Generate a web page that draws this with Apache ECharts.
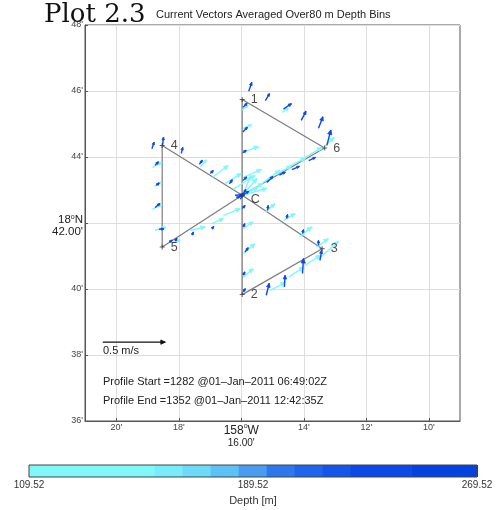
<!DOCTYPE html>
<html>
<head>
<meta charset="utf-8">
<script src="https://cdn.jsdelivr.net/npm/echarts@6/dist/echarts.min.js"></script>
<style>
  html, body { margin: 0; padding: 0; background: #fff; }
  #chart { width: 502px; height: 510px; }
</style>
</head>
<body>
<div id="chart"></div>
<script>
// Positions are arc-minutes: longitude west of 158°W, latitude north of 18°N.
const stationNames = ['1', '2', '3', '4', '5', '6', 'C'];
const stationLon   = [15.97, 15.97, 13.41, 18.53, 18.53, 13.33, 15.97];
const stationLat   = [45.74, 39.83, 41.22, 44.35, 41.27, 44.27, 42.84];
const trackOrder   = ['1', '6', 'C', '4', '5', 'C', '3', '2', 'C', '1'];

const lonTicks = [10, 12, 14, 16, 18, 20];
const latTicks = [36, 38, 40, 42, 44, 46, 48];

// Mean current per depth bin: [lon', lat', u (m/s east), v (m/s north)]
const depthBins = [149.52, 229.52];
const shallowVectors = [
  [13.44, 44.23, 0.104, 0.096], [14.69, 45.35, 0.048, 0.032],
  [15.97, 45.42, 0.048, 0.040], [15.94, 44.87, 0.068, 0.028],
  [15.93, 44.14, 0.120, 0.048], [15.93, 43.38, 0.144, 0.064],
  [15.34, 43.20, 0.144, 0.104], [14.88, 43.48, 0.120, 0.064],
  [14.46, 43.72, 0.128, 0.064], [13.95, 43.99, 0.134, 0.080],
  [15.95, 42.84, 0.160, 0.096], [15.95, 42.84, 0.112, 0.136],
  [15.95, 42.84, 0.192, 0.056], [15.95, 42.84, 0.064, 0.160],
  [16.10, 42.78, 0.160, 0.080],
  [18.84, 43.68, 0.075, 0.045], [18.78, 43.11, 0.054, 0.034],
  [18.84, 42.41, 0.075, 0.042], [18.76, 41.78, 0.088, 0.024],
  [17.31, 43.70, 0.048, 0.056], [16.93, 43.38, 0.128, 0.096],
  [16.51, 43.20, 0.128, 0.080], [16.26, 43.02, 0.176, 0.112],
  [17.63, 41.78, 0.120, 0.026], [16.94, 41.98, 0.093, 0.040],
  [16.57, 42.23, 0.134, 0.054], [18.21, 41.39, 0.064, 0.024],
  [15.24, 42.33, 0.080, 0.067], [14.65, 42.08, 0.094, 0.054],
  [14.12, 41.58, 0.093, 0.080], [13.59, 41.27, 0.094, 0.067],
  [15.94, 41.83, 0.080, 0.054], [15.94, 41.07, 0.094, 0.080],
  [15.94, 40.36, 0.080, 0.067],
  [15.07, 39.96, 0.120, 0.064], [14.48, 40.36, 0.120, 0.080],
  [13.95, 40.72, 0.120, 0.080], [13.53, 40.90, 0.160, 0.144]
];
const deepVectors = [
  [15.76, 45.99, 0.024, 0.072], [15.23, 45.71, 0.034, 0.056],
  [14.65, 45.45, 0.064, 0.044], [14.08, 45.11, 0.038, 0.074],
  [13.53, 44.87, 0.036, 0.092], [13.26, 44.35, 0.032, 0.124],
  [15.94, 45.51, 0.032, 0.032], [15.95, 44.76, 0.037, 0.037],
  [15.95, 44.13, 0.028, 0.020], [15.95, 43.29, 0.032, 0.028],
  [15.18, 43.23, 0.048, 0.048], [14.78, 43.45, 0.048, 0.024],
  [14.38, 43.62, 0.061, 0.026], [13.84, 43.89, 0.054, 0.026],
  [15.95, 42.84, 0.048, 0.032], [15.95, 42.84, 0.024, 0.048],
  [16.16, 42.78, 0.064, 0.016], [16.12, 42.74, 0.048, 0.040],
  [16.03, 42.72, 0.030, 0.052], [16.20, 42.84, 0.060, 0.004],
  [18.52, 44.35, 0.008, 0.066], [18.86, 44.25, 0.018, 0.053],
  [17.92, 44.11, 0.012, 0.048], [18.76, 43.75, 0.028, 0.028],
  [18.72, 43.14, 0.024, 0.020], [18.76, 42.47, 0.040, 0.032],
  [18.63, 41.81, 0.040, 0.004], [18.30, 41.42, 0.024, 0.016],
  [17.34, 43.78, 0.024, 0.032], [16.99, 43.50, 0.024, 0.024],
  [16.38, 43.19, 0.024, 0.032],
  [17.58, 41.63, 0.013, 0.026], [16.94, 41.83, 0.016, 0.016],
  [18.12, 41.45, 0.016, 0.024],
  [15.16, 42.38, 0.006, 0.040], [14.55, 42.13, 0.008, 0.034],
  [14.04, 41.68, 0.008, 0.032], [13.53, 41.32, 0.000, 0.040],
  [15.97, 42.44, 0.024, 0.024], [15.94, 41.88, 0.014, 0.027],
  [15.88, 41.12, 0.026, 0.035], [15.94, 40.42, 0.014, 0.026],
  [15.94, 39.91, 0.018, 0.027],
  [15.20, 39.81, 0.024, 0.096], [14.62, 40.06, 0.006, 0.094],
  [14.04, 40.47, 0.008, 0.120], [13.48, 40.87, 0.013, 0.080]
];
// Reference arrow: 0.5 m/s eastward
const scaleVector = [[20.43, 38.39, 0.5, 0]];

// Depth colour scale
const depthEdges  = [109.52, 154.4, 164.4, 174.4, 184.4, 194.4, 204.4, 214.4, 224.4, 246.0, 269.52];
const depthColors = ['#80f8fa', '#78ecf8', '#6cdaf8', '#5cc2f6', '#4a9cf2', '#2e78ee', '#1e64ec', '#1456ea', '#0b4ae8', '#0542e2'];
const depthTicks  = [109.52, 189.52, 269.52];

const FONT = 'Liberation Sans, Arial, sans-serif';
const MIN_PER_MS = 4.0;   // arrow length: arc-minutes of longitude per 1 m/s

function depthColor(d) {
  for (let i = 0; i < depthColors.length; i++) {
    if (d < depthEdges[i + 1]) return depthColors[i];
  }
  return depthColors[depthColors.length - 1];
}

function arrowRenderer(color, width) {
  return function (params, api) {
    const lon = api.value(0), lat = api.value(1);
    const u = api.value(2), v = api.value(3);
    const p0 = api.coord([lon, lat]);
    const pRef = api.coord([lon + MIN_PER_MS, lat]);
    const k = Math.abs(pRef[0] - p0[0]);          // pixels per m/s
    const p1 = [p0[0] + u * k, p0[1] - v * k];
    const dx = p1[0] - p0[0], dy = p1[1] - p0[1];
    const len = Math.hypot(dx, dy);
    const ang = Math.atan2(dy, dx);
    const h = Math.min(5, Math.max(2.8, len * 0.35));
    const a = 0.45;
    const h1 = [p1[0] - h * Math.cos(ang - a), p1[1] - h * Math.sin(ang - a)];
    const h2 = [p1[0] - h * Math.cos(ang + a), p1[1] - h * Math.sin(ang + a)];
    return {
      type: 'group',
      children: [
        { type: 'line', shape: { x1: p0[0], y1: p0[1], x2: p1[0], y2: p1[1] },
          style: { stroke: color, lineWidth: width } },
        { type: 'polygon', shape: { points: [h1, p1, h2] },
          style: { fill: color, stroke: color, lineWidth: 0.8 } }
      ]
    };
  };
}

const stationIndex = name => stationNames.indexOf(name);
const trackData = trackOrder.map(n => [stationLon[stationIndex(n)], stationLat[stationIndex(n)]]);
const stationData = stationNames.map((n, i) => ({
  name: n,
  value: [stationLon[i], stationLat[i]],
  label: n === 'C' ? { offset: [0, 4] } : {}
}));

const colorbarData = depthColors.map((c, i) => [depthEdges[i], depthEdges[i + 1], i]);

const chart = echarts.init(document.getElementById('chart'), null, { renderer: 'canvas' });

chart.setOption({
  animation: false,
  backgroundColor: '#fff',
  textStyle: { fontFamily: FONT },
  grid: [
    { left: 85, right: 42, top: 25, bottom: 89, show: true, borderColor: '#555', borderWidth: 1 },
    { left: 29, right: 25, top: 465, height: 12 }
  ],
  xAxis: [
    {
      type: 'value', gridIndex: 0, inverse: true, min: 9, max: 21,
      axisLine: { show: true, lineStyle: { color: '#555' } },
      axisTick: { show: true, inside: true, length: 3, customValues: lonTicks, lineStyle: { color: '#555' } },
      splitLine: { show: true, lineStyle: { color: '#dedede', width: 1 } },
      axisLabel: {
        customValues: lonTicks, margin: 2, fontSize: 9, color: '#444', fontFamily: FONT,
        formatter: v => v === 16 ? "{b|158}{s|o}{b|W}\n{m|16.00'}" : v + "'",
        rich: {
          b: { fontSize: 12, lineHeight: 15, color: '#222', fontFamily: FONT },
          s: { fontSize: 7, lineHeight: 9, verticalAlign: 'top', color: '#222', fontFamily: FONT },
          m: { fontSize: 10, lineHeight: 11, color: '#222', fontFamily: FONT }
        }
      }
    },
    {
      type: 'value', gridIndex: 1, min: 109.52, max: 269.52,
      axisLine: { show: false },
      axisTick: { show: true, inside: true, length: 12, customValues: depthTicks, lineStyle: { color: '#13306a', width: 1 } },
      splitLine: { show: false },
      axisLabel: {
        customValues: depthTicks, margin: 3, fontSize: 10, color: '#333', fontFamily: FONT,
        showMinLabel: true, showMaxLabel: true,
        formatter: v => v.toFixed(2)
      },
      name: 'Depth [m]', nameLocation: 'middle', nameGap: 18,
      nameTextStyle: { fontSize: 11, color: '#333', fontFamily: FONT }
    }
  ],
  yAxis: [
    {
      type: 'value', gridIndex: 0, min: 36, max: 48, interval: 2,
      axisLine: { show: true, lineStyle: { color: '#555' } },
      axisTick: { show: true, inside: true, length: 3, lineStyle: { color: '#555' } },
      splitLine: { show: true, lineStyle: { color: '#dedede', width: 1 } },
      axisLabel: {
        margin: 2, fontSize: 9, color: '#444', fontFamily: FONT,
        formatter: v => v === 42 ? "{e| }\n{n|18}{s|o}{n|N}\n{n|42.00'}" : v + "'",
        rich: {
          e: { fontSize: 4, lineHeight: 6 },
          n: { fontSize: 11.5, lineHeight: 12, color: '#222', fontFamily: FONT },
          s: { fontSize: 7, lineHeight: 8, verticalAlign: 'top', color: '#222', fontFamily: FONT }
        }
      }
    },
    { type: 'value', gridIndex: 1, min: 0, max: 1, show: false }
  ],
  series: [
    {
      type: 'line', xAxisIndex: 0, yAxisIndex: 0, data: trackData,
      symbol: 'none', silent: true, z: 2,
      lineStyle: { color: '#7c7c7c', width: 1.2 }
    },
    {
      type: 'custom', xAxisIndex: 0, yAxisIndex: 0, z: 3,
      renderItem: arrowRenderer(depthColor(depthBins[0]), 1.4),
      data: shallowVectors
    },
    {
      type: 'custom', xAxisIndex: 0, yAxisIndex: 0, z: 4,
      renderItem: arrowRenderer(depthColor(depthBins[1]), 1.4),
      data: deepVectors
    },
    {
      type: 'scatter', xAxisIndex: 0, yAxisIndex: 0, z: 5,
      data: stationData,
      symbol: 'path://M4,0h2v4h4v2h-4v4h-2v-4h-4v-2h4z', symbolSize: 5,
      itemStyle: { color: '#333' },
      label: {
        show: true, position: 'right', distance: 6, formatter: p => p.name,
        fontSize: 12.5, color: '#1a1a1a', fontFamily: FONT
      }
    },
    {
      type: 'custom', xAxisIndex: 0, yAxisIndex: 0, z: 5,
      renderItem: arrowRenderer('#111', 1.1),
      data: scaleVector
    },
    {
      type: 'custom', xAxisIndex: 1, yAxisIndex: 1, z: 2,
      renderItem: function (params, api) {
        const a = api.coord([api.value(0), 1]);
        const b = api.coord([api.value(1), 0]);
        return {
          type: 'rect',
          shape: { x: a[0], y: a[1], width: b[0] - a[0] + 0.5, height: b[1] - a[1] },
          style: { fill: depthColors[api.value(2)] }
        };
      },
      data: colorbarData
    },
    {
      type: 'custom', xAxisIndex: 1, yAxisIndex: 1, z: 3,
      renderItem: function (params, api) {
        const a = api.coord([api.value(0), 1]);
        const b = api.coord([api.value(1), 0]);
        return {
          type: 'rect',
          shape: { x: a[0], y: a[1], width: b[0] - a[0], height: b[1] - a[1] },
          style: { fill: null, stroke: '#444', lineWidth: 1 }
        };
      },
      data: [[depthTicks[0], depthTicks[depthTicks.length - 1]]]
    }
  ],
  graphic: [
    { type: 'text', z: 10, x: 44, y: 15, style: { text: 'Plot 2.3', fontSize: 26, fontFamily: 'DejaVu Serif', fill: '#111', verticalAlign: 'middle' } },
    { type: 'text', z: 10, x: 156, y: 15, style: { text: 'Current Vectors Averaged Over80 m Depth Bins', fontSize: 11, fontFamily: FONT, fill: '#222', verticalAlign: 'middle' } },
    { type: 'text', z: 10, x: 103, y: 351, style: { text: '0.5 m/s', fontSize: 11, fontFamily: FONT, fill: '#222', verticalAlign: 'middle' } },
    { type: 'text', z: 10, x: 103, y: 382, style: { text: 'Profile Start =1282 @01–Jan–2011 06:49:02Z', fontSize: 11, fontFamily: FONT, fill: '#222', verticalAlign: 'middle' } },
    { type: 'text', z: 10, x: 103, y: 401, style: { text: 'Profile End =1352 @01–Jan–2011 12:42:35Z', fontSize: 11, fontFamily: FONT, fill: '#222', verticalAlign: 'middle' } }
  ]
});
</script>
</body>
</html>
